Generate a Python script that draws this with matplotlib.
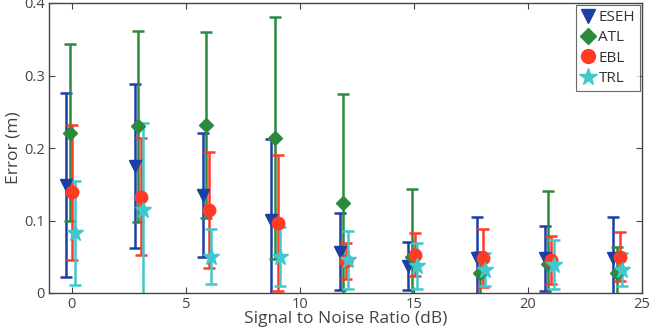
import matplotlib
matplotlib.use("Agg")
import matplotlib.pyplot as plt
from matplotlib.lines import Line2D
import numpy as np

plt.rcParams['font.family'] = ['Open Sans', 'DejaVu Sans']

snr = [0, 3, 6, 9, 12, 15, 18, 21, 24]
series = ["ESEH", "ATL", "EBL", "TRL"]
eseh_mean = [0.149, 0.175, 0.135, 0.101, 0.057, 0.037, 0.048, 0.048, 0.048]
eseh_std = [0.127, 0.113, 0.085, 0.112, 0.053, 0.033, 0.057, 0.045, 0.057]
atl_mean = [0.221, 0.230, 0.232, 0.214, 0.124, 0.049, 0.027, 0.040, 0.027]
atl_std = [0.122, 0.132, 0.128, 0.167, 0.151, 0.094, 0.030, 0.101, 0.036]
ebl_mean = [0.139, 0.133, 0.114, 0.097, 0.044, 0.053, 0.048, 0.046, 0.050]
ebl_std = [0.093, 0.081, 0.080, 0.094, 0.025, 0.030, 0.040, 0.033, 0.034]
trl_mean = [0.083, 0.115, 0.050, 0.050, 0.046, 0.037, 0.032, 0.039, 0.032]
trl_std = [0.072, 0.120, 0.038, 0.041, 0.040, 0.032, 0.023, 0.034, 0.023]

means = [eseh_mean, atl_mean, ebl_mean, trl_mean]
stds = [eseh_std, atl_std, ebl_std, trl_std]
offsets = [-0.25, -0.1, 0.03, 0.12]
colors = ['#1c3fa6', '#2b8a3e', '#ff3b26', '#40c8cc']
markers = ['v', 'D', 'o', '*']
msizes = [9, 7, 9, 12]

fig = plt.figure(figsize=(6.52, 3.33), dpi=100)
ax = fig.add_axes([49/652, 1-293/333, (642-49)/652, (293-3)/333])

x = np.array(snr, dtype=float)
handles = []
for name, m, s, off, c, mk, ms in zip(series, means, stds, offsets, colors, markers, msizes):
    ax.errorbar(x + off, m, yerr=s, color=c, marker=mk, markersize=ms,
                linestyle='none', elinewidth=1.8, capsize=4, capthick=1.8,
                markeredgecolor=c)
    handles.append(Line2D([], [], color=c, marker=mk, linestyle='none',
                          markersize=ms + 1, markeredgecolor=c, label=name))

ax.set_xlim(-1, 25)
ax.set_ylim(0, 0.4)
ax.set_xticks([0, 5, 10, 15, 20, 25])
ax.set_yticks([0, 0.1, 0.2, 0.3, 0.4])
ax.set_yticklabels(['0', '0.1', '0.2', '0.3', '0.4'])
ax.tick_params(direction='in', top=True, right=True, labelsize=10.5,
               colors='#444444', length=4, width=0.8, pad=3)
for sp in ax.spines.values():
    sp.set_color('#444444')
    sp.set_linewidth(1.0)
ax.set_xlabel('Signal to Noise Ratio (dB)', fontsize=12.5, color='#444444', labelpad=-1)
ax.set_ylabel('Error (m)', fontsize=12.5, color='#444444', labelpad=2)

leg = ax.legend(handles=handles, loc='upper right', fontsize=11, frameon=True,
                fancybox=False, edgecolor='#444444', handlelength=0.8,
                handletextpad=0.3, borderpad=0.35, labelspacing=0.35,
                borderaxespad=0.1, numpoints=1)
leg.get_frame().set_linewidth(0.8)
for t in leg.get_texts():
    t.set_color('#333333')

fig.savefig('out.png', dpi=100)
